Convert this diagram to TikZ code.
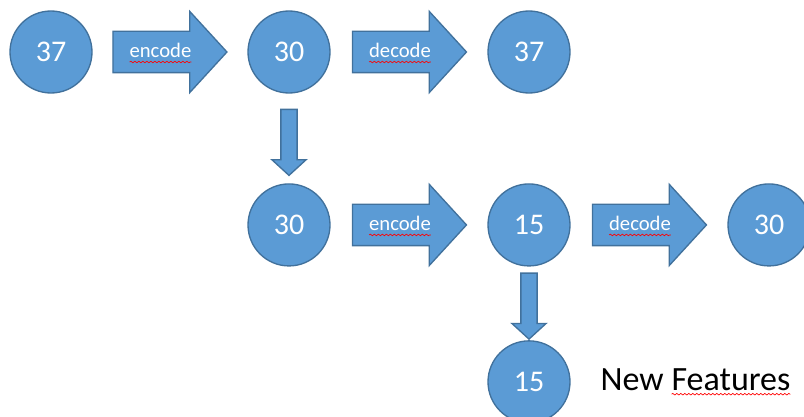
\documentclass[tikz,border=0pt]{standalone}
\usepackage{fontspec}
\setmainfont{Carlito}
\usetikzlibrary{shapes.arrows}
\usetikzlibrary{decorations.pathmorphing}
\definecolor{boxblue}{HTML}{5B9BD5}
\definecolor{rimblue}{HTML}{41719C}
\newcommand\redwave[1]{\tikz[baseline=(w.base)]{\node[shape=rectangle, draw=none, fill=none, minimum size=0pt, text height=, text depth=, inner sep=0pt, outer sep=0pt] (w) {#1};
    \draw[red, line width=0.5pt, decorate, decoration={snake, amplitude=0.6pt, segment length=3pt}] ([yshift=-3pt]w.base west) -- ([yshift=-3pt]w.base east);}}

\begin{document}
\begin{tikzpicture}[node distance=90pt, auto,
    val/.style={draw=rimblue, fill=boxblue, circle, line width=1pt, minimum size=61.5pt, inner sep=0pt, text=white, font=\fontsize{22.5}{24}\selectfont},
    bigarrow/.style={draw=rimblue, fill=boxblue, single arrow, line width=1pt, single arrow head extend=15pt, single arrow tip angle=95, minimum height=85.5pt, inner ysep=0pt, text height=19.5pt, text depth=10.5pt, text=white, font=\fontsize{15.5}{17}\selectfont},
    downarrow/.style={draw=rimblue, fill=boxblue, single arrow, shape border rotate=270, line width=1pt, single arrow head extend=6.75pt, single arrow tip angle=95, minimum height=49.5pt, inner sep=5.6pt}]
        \useasboundingbox (0,0) rectangle (603pt,-312.75pt);
        % Nodes
        \node (in) [val] at (38.25pt,-39pt) {37};
        \node (enc1) [bigarrow, right of=in, node distance=82.1pt] {\redwave{encode}};
        \node (code1) [val, right of=enc1, node distance=96.4pt] {30};
        \node (dec1) [bigarrow, right of=code1, node distance=83.25pt] {\redwave{decode}};
        \node (out1) [val, right of=dec1, node distance=96.75pt] {37};
        \node (down1) [downarrow, below of=code1, node distance=65pt] {};
        \node (code2) [val, below of=down1, node distance=64.7pt] {30};
        \node (enc2) [bigarrow, right of=code2, node distance=83.25pt] {\redwave{encode}};
        \node (code3) [val, right of=enc2, node distance=96.75pt] {15};
        \node (dec2) [bigarrow, right of=code3, node distance=83.25pt] {\redwave{decode}};
        \node (out2) [val, right of=dec2, node distance=96.75pt] {30};
        \node (down2) [downarrow, below of=code3, node distance=58.1pt] {};
        \node (feat) [val, below of=down2, node distance=59.6pt] {15};
        \node (label) [right of=feat, node distance=125pt, font=\fontsize{25.5}{27}\selectfont] {New \redwave{Features}};
    \end{tikzpicture}
\end{document}
